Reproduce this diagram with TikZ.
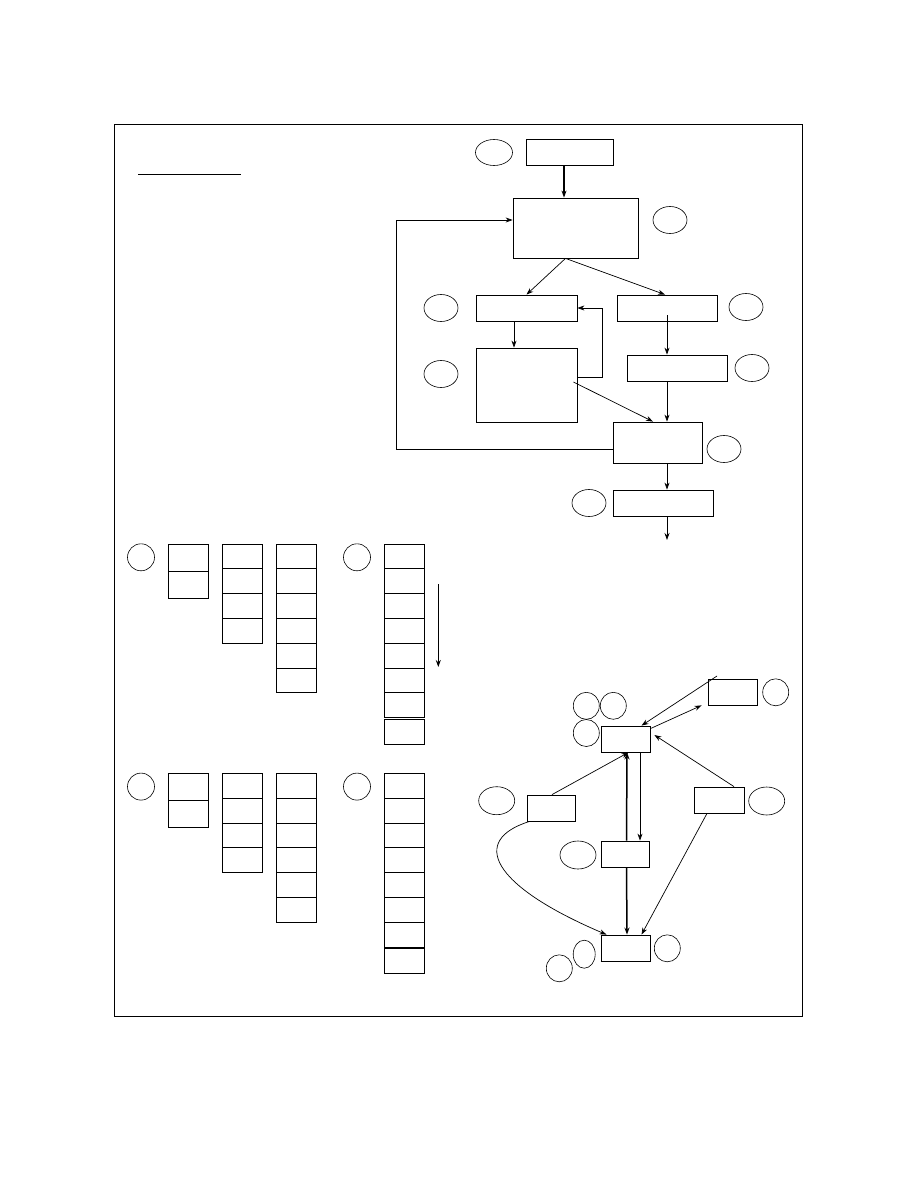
\documentclass[tikz,border=0pt]{standalone}
\usetikzlibrary{positioning,arrows.meta,shapes.geometric,calc}

\begin{document}
\begin{tikzpicture}[
  x=1pt, y=-1pt,
  box/.style={draw, rectangle, inner sep=0pt, line width=0.8pt},
  tag/.style={draw, ellipse, inner sep=0pt, minimum width=34pt, minimum height=27pt, line width=0.6pt},
  cell/.style={draw, rectangle, inner sep=0pt, minimum width=40pt, line width=0.8pt},
  flow/.style={-{Stealth[length=7pt,width=5pt]}, line width=0.7pt},
  heavy/.style={flow, line width=1.5pt}
]
\useasboundingbox (0,0) rectangle (918,1188);
\draw[line width=1pt] (114,125) rectangle (802,1016);
\draw[line width=0.8pt] (138,174) -- (241,174);

\node[box, minimum width=87pt, minimum height=26pt] (start) at (569.5,152) {};
\node[box, minimum width=125pt, minimum height=60pt] (A) at (575.5,228) {};
\node[box, minimum width=101pt, minimum height=26pt] (L1) at (526.5,308) {};
\node[box, minimum width=100pt, minimum height=26pt] (R1) at (667,308) {};
\node[box, minimum width=101pt, minimum height=74pt] (L2) at (526.5,385) {};
\node[box, minimum width=100pt, minimum height=26pt] (R2) at (677,368) {};
\node[box, minimum width=89pt, minimum height=41pt] (M) at (657.5,442.5) {};
\node[box, minimum width=100pt, minimum height=26pt] (E) at (663,503) {};
\coordinate (out) at (667,540);

\node[tag, minimum width=37pt, minimum height=26pt] (t0) at (494,152.5) {};
\node[tag] (tA) at (670,220) {};
\node[tag] (tL1) at (441,308) {};
\node[tag] (tR1) at (746,307) {};
\node[tag] (tL2) at (441,374) {};
\node[tag] (tR2) at (752,368) {};
\node[tag] (tM) at (724,449) {};
\node[tag] (tE) at (589,503) {};

\draw[heavy] ([xshift=-5.5pt]start.south) -- ([xshift=-5.5pt]start.south |- A.north);
\draw[flow] ([xshift=-10pt]A.south) -- (L1.north);
\draw[flow] ([xshift=-10pt]A.south) -- ([xshift=-2pt]R1.north);
\draw[flow] ([xshift=-12.5pt]L1.south) -- ([xshift=-12.5pt]L2.north);
\draw[flow] ([yshift=8pt]L2.east) -- ++(25,0) |- (L1.east);
\draw[flow] ([xshift=-4pt,yshift=3pt]L2.east) -- ([xshift=-4.5pt]M.north);
\draw[flow] ([yshift=-7pt]R1.center) -- (R1.center |- R2.north);
\draw[flow] (R1.center |- R2.south) -- (R1.center |- M.north);
\draw[flow] ([yshift=-6.5pt]M.west) -- ++(-216,0) |- ([yshift=8pt]A.west);
\draw[flow] (R1.center |- M.south) -- (R1.center |- E.north);
\draw[flow] (R1.center |- E.south) -- (out);

\foreach \row/\dy in {up/0, lo/229.3} {
  \node[tag, minimum width=27pt] (\row-t1) at (141,557.3+\dy) {};
  \node[tag, minimum width=27pt] (\row-t2) at (357,557.3+\dy) {};
  \foreach \i in {1,2}
    \node[cell, minimum height=27pt] (\row-a\i) at (188.5,544+\dy+27*\i-13.5) {};
  \foreach \i in {1,...,4}
    \node[cell, minimum height=24.8pt] (\row-b\i) at (242.3,544+\dy+24.8*\i-12.4) {};
  \foreach \i in {1,...,6}
    \node[cell, minimum height=24.8pt] (\row-c\i) at (296.3,544+\dy+24.8*\i-12.4) {};
  \foreach \i in {1,...,7}
    \node[cell, minimum height=24.8pt] (\row-d\i) at (404.3,544+\dy+24.8*\i-12.4) {};
  \node[cell, minimum height=24.7pt] (\row-d8) at (404.3,731.7+\dy) {};
}
\coordinate (dn1) at (438.3,584.3);
\coordinate (dn2) at (438.3,667);
\draw[heavy] (dn1) -- (dn2);

\node[box, minimum width=49pt, minimum height=26pt] (G1) at (625.5,739) {};
\node[box, minimum width=49pt, minimum height=26pt] (TR) at (732.5,692) {};
\node[box, minimum width=50pt, minimum height=26pt] (RB) at (719,800) {};
\node[box, minimum width=48pt, minimum height=26pt] (LB) at (551,808) {};
\node[box, minimum width=48pt, minimum height=26pt] (MB) at (625,854) {};
\node[box, minimum width=49pt, minimum height=26pt] (BB) at (625.5,948) {};
\draw[line width=1.6pt] (BB.south west) -- (BB.south east);
\coordinate (tin) at (717,676);

\node[tag, minimum width=26pt] (g1a) at (586.3,705.8) {};
\node[tag, minimum width=26pt] (g1b) at (613.3,705.8) {};
\node[tag, minimum width=26pt] (g1c) at (586.3,733) {};
\node[tag, minimum width=26pt] (tTR) at (775.7,692.3) {};
\node[tag, minimum width=36pt, minimum height=28pt] (tRB) at (766.7,801) {};
\node[tag, minimum width=36pt, minimum height=28pt] (tLB) at (496.7,800.7) {};
\node[tag, minimum width=36pt, minimum height=28pt] (tMB) at (578,855) {};
\node[tag, minimum width=22pt, minimum height=28pt] (bb1) at (584.2,954.2) {};
\node[tag, minimum width=26pt] (bb2) at (559.3,968.3) {};
\node[tag, minimum width=26pt] (bb3) at (667.3,948.3) {};

\draw[flow] (tin) -- ([xshift=16pt]G1.north);
\draw[flow] ([yshift=-3pt]G1.north east) -- ([xshift=-6pt]TR.south west);
\draw[flow] ([xshift=15pt]RB.north) -- ([xshift=4pt,yshift=4pt]G1.east);
\draw[flow] ([xshift=1pt]LB.north) -- ([xshift=3pt]G1.south);
\draw[heavy] ([xshift=1.5pt]MB.north) -- ([xshift=1.5pt]G1.south);
\draw[heavy] ([xshift=1.5pt]MB.south) -- ([xshift=1.5pt]BB.north);
\draw[flow] ([xshift=14.5pt]G1.south) -- ([xshift=14.5pt]G1.south |- MB.north);
\draw[flow] ([xshift=3pt]LB.south west) .. controls (470,840) and (490,885) .. ([xshift=-19pt]BB.north);
\draw[flow] ([xshift=-12pt]RB.south) -- ([xshift=16pt]BB.north);
\end{tikzpicture}
\end{document}
